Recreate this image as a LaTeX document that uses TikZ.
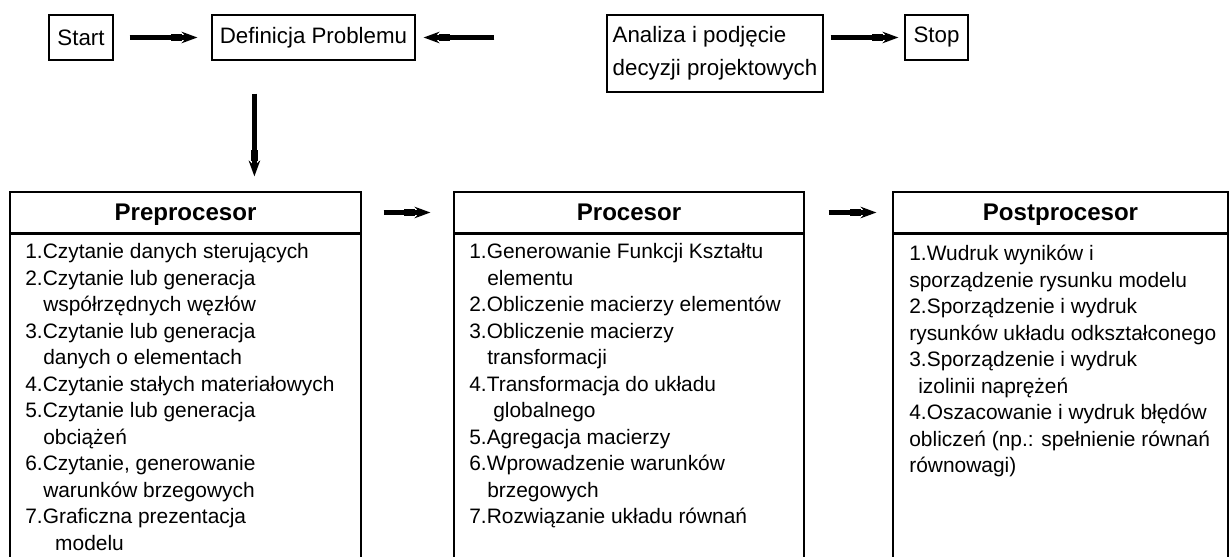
\documentclass[tikz,border=0pt]{standalone}
\usepackage{fontspec}
\setmainfont{Liberation Sans}
\usetikzlibrary{arrows.meta}

\begin{document}
\begin{tikzpicture}[x=0.02cm, y=-0.02cm,
	>={Rectangle[length=6pt,width=1.2pt]Stealth[length=9pt,width=6.5pt]},
	box/.style={draw, line width=0.7pt, inner sep=0pt, minimum height=0.9cm, font=\fontsize{12.7}{19}\selectfont},
	head/.style={draw, line width=0.7pt, inner sep=0pt, minimum height=0.82cm, text depth=0pt, font=\bfseries\fontsize{13.7}{16}\selectfont},
	body/.style={draw, line width=0.7pt, inner sep=0pt, minimum height=7cm, anchor=north},
	list/.style={anchor=north west, inner sep=0pt, align=left, font=\fontsize{11.9}{15.1}\selectfont},
	arr/.style={->, line width=2.6pt}]
	\useasboundingbox (0,0) rectangle (1229,557);
	%Top row
	\node [box, minimum width=1.28cm] (start) at (81,37.5) {Start};
	\node [box, minimum width=4.06cm] (defin) at (313.5,37.5) {Definicja Problemu};
	\node [box, minimum width=4.32cm, minimum height=1.54cm, align=left] (analiza) at (715,53.5) {Analiza i podjęcie\\decyzji projektowych};
	\node [box, minimum width=1.26cm] (stop) at (936.5,37.5) {Stop};
	\draw[arr, shorten <=0.32cm, shorten >=0.28cm] (start) -- (defin);
	\draw[arr, shorten <=2.24cm, shorten >=0.16cm] (analiza.west |- defin.east) -- (defin.east);
	\draw[arr, shorten <=0.14cm, shorten >=0.12cm] (analiza.east |- stop.west) -- (stop.west);
	%Modules
	\node [head, minimum width=7.02cm] (prehead) at (185.5,212.5) {Preprocesor};
	\node [head, minimum width=7.0cm] (prochead) at (629,212.5) {Procesor};
	\node [head, minimum width=6.7cm] (posthead) at (1060.5,212.5) {Postprocesor};
	\node [body, minimum width=7.02cm] (prebody) at (prehead.south) {};
	\node [body, minimum width=7.0cm] (procbody) at (prochead.south) {};
	\node [body, minimum width=6.7cm] (postbody) at (posthead.south) {};
	\coordinate (down) at ([xshift=0.86cm]defin.south west);
	\draw[arr, shorten <=0.66cm, shorten >=0.3cm] (down) -- (down |- prehead.north);
	\draw[arr, shorten <=0.44cm, shorten >=0.46cm] (prehead) -- (prochead);
	\draw[arr, shorten <=0.48cm, shorten >=0.32cm] (prochead) -- (posthead);
	%Lists
	\node [list] (prelist) at (25,243) {1.Czytanie danych sterujących\\
		2.Czytanie lub generacja\\
		\hspace*{10.2pt}współrzędnych węzłów\\
		3.Czytanie lub generacja\\
		\hspace*{10.2pt}danych o elementach\\
		4.Czytanie stałych materiałowych\\
		5.Czytanie lub generacja\\
		\hspace*{10.2pt}obciążeń\\
		6.Czytanie, generowanie\\
		\hspace*{10.2pt}warunków brzegowych\\
		7.Graficzna prezentacja\\
		\hspace*{17pt}modelu};
	\node [list] (proclist) at (469,243) {1.Generowanie Funkcji Kształtu\\
		\hspace*{10.2pt}elementu\\
		2.Obliczenie macierzy elementów\\
		3.Obliczenie macierzy\\
		\hspace*{10.2pt}transformacji\\
		4.Transformacja do układu\\
		\hspace*{13.6pt}globalnego\\
		5.Agregacja macierzy\\
		6.Wprowadzenie warunków\\
		\hspace*{10.2pt}brzegowych\\
		7.Rozwiązanie układu równań};
	\node [list] (postlist) at (909,245) {1.Wudruk wyników i\\
		sporządzenie rysunku modelu\\
		2.Sporządzenie i wydruk\\
		rysunków układu odkształconego\\
		3.Sporządzenie i wydruk\\
		\hspace*{5.1pt}izolinii naprężeń\\
		4.Oszacowanie i wydruk błędów\\
		obliczeń (np.: spełnienie równań\\
		równowagi)};
\end{tikzpicture}
\end{document}
